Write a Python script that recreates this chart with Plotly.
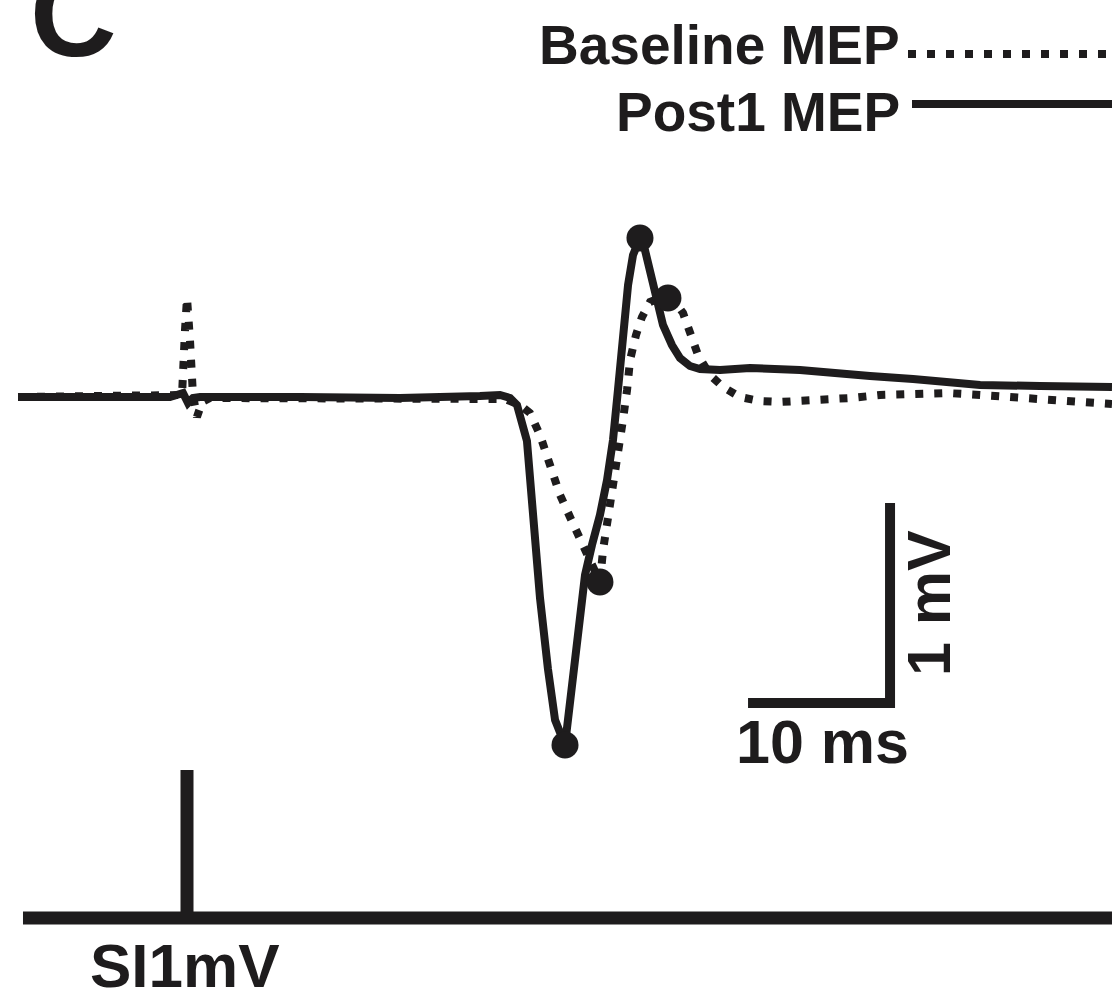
import plotly.graph_objects as go

# Time in ms relative to the stimulus, amplitude in mV
post1_t = [-11.90, -6.13, -1.20, -0.28, 0.07, 0.42, 0.92, 7.96, 15.0, 20.63, 22.04, 22.75,
           23.24, 23.94, 24.37, 24.86, 25.42, 25.92, 26.62, 26.83, 27.11, 27.54, 28.03,
           28.52, 29.08, 29.58, 30.00, 30.35, 30.70, 31.06, 31.41, 31.90, 32.25, 32.61,
           33.10, 33.52, 34.15, 34.72, 35.42, 36.13, 37.54, 39.65, 43.17, 45.28, 48.10,
           51.13, 53.73, 55.85, 60.07, 65.14]
post1_mv = [0.0, -0.005, 0.0, 0.02, -0.03, -0.005, 0.0, 0.0, -0.005, 0.005, 0.01, -0.005,
            -0.04, -0.22, -0.60, -1.005, -1.36, -1.615, -1.74, -1.615, -1.365, -1.115,
            -0.89, -0.74, -0.59, -0.415, -0.215, 0.035, 0.335, 0.56, 0.71, 0.795, 0.735,
            0.625, 0.485, 0.36, 0.26, 0.195, 0.155, 0.14, 0.135, 0.145, 0.135, 0.12, 0.105,
            0.09, 0.07, 0.06, 0.055, 0.05]

base_t = [-11.90, -6.13, -0.85, -0.35, -0.14, 0.0, 0.21, 0.42, 0.70, 1.06, 1.62, 7.96,
          15.0, 21.69, 22.39, 23.45, 24.15, 24.86, 25.56, 26.27, 26.97, 27.68, 28.38,
          29.08, 29.30, 29.65, 30.00, 30.35, 30.70, 30.99, 31.20, 31.62, 32.04, 32.61,
          33.31, 33.87, 34.37, 34.93, 35.42, 35.99, 36.83, 37.75, 38.94, 40.35, 41.76,
          44.79, 46.69, 48.80, 53.52, 55.85, 58.17, 61.48, 65.14]
base_mv = [0.0, 0.0, 0.0, 0.01, 0.335, 0.495, 0.285, 0.01, -0.10, -0.025, -0.005, -0.005,
           0.0, 0.0, -0.01, -0.04, -0.08, -0.19, -0.34, -0.49, -0.60, -0.715, -0.83,
           -0.925, -0.765, -0.615, -0.465, -0.29, -0.115, 0.035, 0.185, 0.31, 0.40, 0.475,
           0.495, 0.495, 0.475, 0.42, 0.32, 0.21, 0.11, 0.05, 0.0, -0.02, -0.025, -0.015,
           -0.005, 0.01, 0.02, 0.01, 0.0, -0.015, -0.035]

# Peak-to-peak points marked on each trace
post1_pk_t = [26.62, 31.90]
post1_pk_mv = [-1.74, 0.795]
base_pk_t = [29.08, 33.87]
base_pk_mv = [-0.925, 0.495]

# Stimulus channel: baseline level and trigger pulse height
stim_t_start = -11.55
stim_t_end = 65.14
stim_level = -2.605
stim_pulse_top = -1.865

# Calibration bar: 10 ms x 1 mV
scale_t0 = 39.51
scale_dt = 10.0
scale_v0 = -1.53
scale_dv = 1.0

INK = "#1e1c1d"
FONT = "Liberation Sans, Arial, sans-serif"
DOTS = "8px,11px"

fig = go.Figure()

fig.add_trace(go.Scatter(x=base_t, y=base_mv, mode="lines",
                         line=dict(color=INK, width=8, dash=DOTS),
                         name="Baseline MEP", showlegend=False))
fig.add_trace(go.Scatter(x=post1_t, y=post1_mv, mode="lines",
                         line=dict(color=INK, width=8),
                         name="Post1 MEP", showlegend=False))
fig.add_trace(go.Scatter(x=post1_pk_t + base_pk_t, y=post1_pk_mv + base_pk_mv, mode="markers",
                         marker=dict(color=INK, size=27), showlegend=False))

# stimulus trace
fig.add_trace(go.Scatter(x=[stim_t_start, stim_t_end, None, 0, 0],
                         y=[stim_level, stim_level, None, stim_level, stim_pulse_top],
                         mode="lines", line=dict(color=INK, width=13), showlegend=False))

# calibration bar
fig.add_trace(go.Scatter(x=[scale_t0, scale_t0 + scale_dt, scale_t0 + scale_dt],
                         y=[scale_v0, scale_v0, scale_v0 + scale_dv],
                         mode="lines", line=dict(color=INK, width=10), showlegend=False))

W, H = 1112, 1000


def px(x):
    return x / W


def py(y):
    return 1 - y / H


annots = [
    dict(text="C", x=px(28), y=py(14), xanchor="left", yanchor="middle", font_size=120),
    dict(text="Baseline MEP", x=px(902), y=py(45), xanchor="right", yanchor="middle", font_size=55),
    dict(text="Post1 MEP", x=px(902), y=py(112), xanchor="right", yanchor="middle", font_size=55),
    dict(text="10 ms", x=px(822), y=py(742), xanchor="center", yanchor="middle", font_size=61),
    dict(text="1 mV", x=px(929), y=py(603), xanchor="center", yanchor="middle", font_size=61,
         textangle=-90),
    dict(text="SI1mV", x=px(185), y=py(965), xanchor="center", yanchor="middle", font_size=62),
]
for a in annots:
    fs = a.pop("font_size")
    fig.add_annotation(xref="paper", yref="paper", showarrow=False,
                       font=dict(family=FONT, size=fs, color=INK, weight="bold"), **a)

# legend line samples
fig.add_shape(type="line", xref="paper", yref="paper", x0=px(908), x1=px(1112),
              y0=py(54), y1=py(54), line=dict(color=INK, width=8, dash=DOTS))
fig.add_shape(type="line", xref="paper", yref="paper", x0=px(912), x1=px(1112),
              y0=py(104), y1=py(104), line=dict(color=INK, width=8))

fig.update_layout(
    width=W, height=H, margin=dict(l=0, r=0, t=0, b=0),
    paper_bgcolor="white", plot_bgcolor="white",
    xaxis=dict(range=[-187 / 14.2, (W - 187) / 14.2], visible=False, fixedrange=True),
    yaxis=dict(range=[(397 - H) / 200, 397 / 200], visible=False, fixedrange=True),
)

fig.write_html("out.html")
